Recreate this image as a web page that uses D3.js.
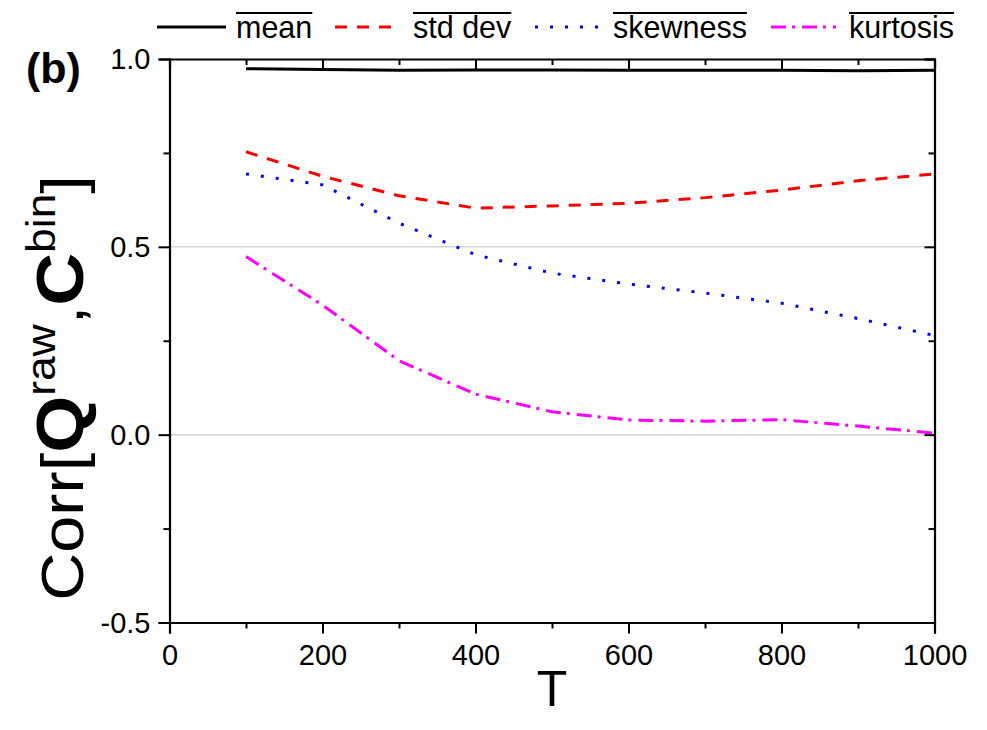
<!DOCTYPE html>
<html>
<head>
<meta charset="utf-8">
<script src="https://d3js.org/d3.v7.min.js"></script>
<style>
  body { margin: 0; background: #fff; }
  svg text { font-family: "Liberation Sans", Arial, sans-serif; }
</style>
</head>
<body>
<div id="chart"></div>
<script>
// data
var T = [100, 200, 300, 400, 500, 600, 700, 800, 900, 1000];
var meanCorr = [0.974, 0.972, 0.970, 0.971, 0.971, 0.970, 0.970, 0.970, 0.969, 0.970];
var stdCorr  = [0.753, 0.688, 0.636, 0.603, 0.609, 0.616, 0.631, 0.651, 0.676, 0.694];
var skewCorr = [0.694, 0.665, 0.563, 0.479, 0.430, 0.401, 0.377, 0.350, 0.309, 0.264];
var kurtCorr = [0.474, 0.345, 0.197, 0.108, 0.061, 0.039, 0.036, 0.040, 0.023, 0.004];
var seriesNames = ["mean", "std dev", "skewness", "kurtosis"];
var xTicks = [0, 200, 400, 600, 800, 1000];
var yTicks = ["-0.5", "0.0", "0.5", "1.0"];

var width = 987, height = 730;
var margin = {left: 169.5, right: 52.5, top: 59, bottom: 107.5};

var svg = d3.select("#chart")
  .append("svg")
  .attr("width", width)
  .attr("height", height);

var x = d3.scaleLinear().domain([0, 1000]).range([margin.left, width - margin.right]);
var y = d3.scaleLinear().domain([-0.5, 1.0]).range([height - margin.bottom, margin.top]);

var styles = [
  {color: "#000000", dash: null},
  {color: "#ff0000", dash: "12,10"},
  {color: "#0000ff", dash: "3,12"},
  {color: "#ff00ff", dash: "15,6,3,7"}
];

// light grid at 0 and 0.5
svg.selectAll("gridline")
  .data([0.0, 0.5])
  .enter()
  .append("line")
  .attr("x1", x(0)).attr("x2", x(1000))
  .attr("y1", function(d){ return y(d); })
  .attr("y2", function(d){ return y(d); })
  .attr("stroke", "#d4d4d4")
  .attr("stroke-width", 1.5);

// the lines
var line = d3.line()
  .x(function(d){ return x(d[0]); })
  .y(function(d){ return y(d[1]); });

var allSeries = [meanCorr, stdCorr, skewCorr, kurtCorr];
allSeries.forEach(function(vals, i){
  svg.append("path")
    .datum(T.map(function(t, j){ return [t, vals[j]]; }))
    .attr("d", line)
    .attr("fill", "none")
    .attr("stroke", styles[i].color)
    .attr("stroke-width", 3)
    .attr("stroke-dasharray", styles[i].dash);
});

// axes: ticks outward on bottom/left, inward on top/right
var isMajorY = function(d){ return Math.abs(d * 2 - Math.round(d * 2)) < 1e-6; };
var axB = d3.axisBottom(x).tickValues(d3.range(0, 1001, 100)).tickSize(11)
  .tickFormat(function(d){ return xTicks.indexOf(d) >= 0 ? d : ""; });
var axL = d3.axisLeft(y).tickValues(d3.range(-0.5, 1.01, 0.25)).tickSize(11)
  .tickFormat(function(d){ return isMajorY(d) ? yTicks[Math.round((d + 0.5) * 2)] : ""; });
var axT = d3.axisTop(x).tickValues(d3.range(0, 1001, 100)).tickSize(-10).tickFormat("");
var axR = d3.axisRight(y).tickValues(d3.range(-0.5, 1.01, 0.25)).tickSize(-10).tickFormat("");

function styleAxis(g){
  g.select(".domain").attr("stroke", "#000").attr("stroke-width", 2.2);
  g.selectAll(".tick line").attr("stroke", "#000").attr("stroke-width", 2);
  g.selectAll(".tick text").attr("font-size", 29).attr("fill", "#000");
}

var gx = svg.append("g").attr("transform", "translate(0," + y(-0.5) + ")").call(axB).call(styleAxis);
gx.selectAll(".tick text").attr("y", 42).attr("dy", null);
gx.selectAll(".tick").filter(function(d){ return xTicks.indexOf(d) < 0; })
  .select("line").attr("y2", 6);

var gy = svg.append("g").attr("transform", "translate(" + x(0) + ",0)").call(axL).call(styleAxis);
gy.selectAll(".tick text").attr("x", -19).attr("dy", "0.34em");
gy.selectAll(".tick").filter(function(d){ return !isMajorY(d); })
  .select("line").attr("x2", -6);

var gt = svg.append("g").attr("transform", "translate(0," + y(1.0) + ")").call(axT).call(styleAxis);
gt.selectAll(".tick").filter(function(d){ return xTicks.indexOf(d) < 0; })
  .select("line").attr("y2", 6);

var gr = svg.append("g").attr("transform", "translate(" + x(1000) + ",0)").call(axR).call(styleAxis);
gr.selectAll(".tick").filter(function(d){ return !isMajorY(d); })
  .select("line").attr("x2", -6);

// axis titles
svg.append("text")
  .attr("x", x(500))
  .attr("y", 706)
  .attr("text-anchor", "middle")
  .attr("font-size", 50)
  .text("T");

// y title is a bit stretched along its length in the original
var yt = svg.append("text")
  .attr("transform", "translate(83,388) rotate(-90) scale(1.11,1)")
  .attr("text-anchor", "middle")
  .attr("font-size", 60);
yt.append("tspan").text("Corr[");
yt.append("tspan").attr("font-weight", "bold").attr("font-size", 66).text("Q");
yt.append("tspan").attr("font-size", 40).attr("dy", -28).text("raw");
yt.append("tspan").attr("dy", 28).text(",");
yt.append("tspan").attr("font-weight", "bold").attr("font-size", 66).text("C");
yt.append("tspan").attr("font-size", 40).attr("dy", -28).text("bin");
yt.append("tspan").attr("dy", 28).text("]");

// panel label
svg.append("text")
  .attr("x", 26)
  .attr("y", 83)
  .attr("font-size", 43)
  .attr("font-weight", "bold")
  .text("(b)");

// legend along the top
var legendX = [157, 335, 535, 771];
var legend = svg.selectAll("legenditem")
  .data(seriesNames)
  .enter()
  .append("g")
  .attr("transform", function(d, i){ return "translate(" + legendX[i] + ",0)"; });

legend.append("line")
  .attr("x1", 0).attr("x2", function(d, i){ return i == 0 ? 69 : 65; })
  .attr("y1", 27).attr("y2", 27)
  .attr("stroke", function(d, i){ return styles[i].color; })
  .attr("stroke-width", 3)
  .attr("stroke-dasharray", function(d, i){ return styles[i].dash; });

legend.each(function(d, i){
  var g = d3.select(this);
  var t = g.append("text")
    .attr("x", i == 0 ? 79 : 78)
    .attr("y", 38)
    .attr("font-size", 30.5)
    .text(d);
  var w = t.node().getComputedTextLength();
  g.append("line")
    .attr("x1", i == 0 ? 79 : 78).attr("x2", (i == 0 ? 79 : 78) + w)
    .attr("y1", 13).attr("y2", 13)
    .attr("stroke", "#000")
    .attr("stroke-width", 2);
});
</script>
</body>
</html>
